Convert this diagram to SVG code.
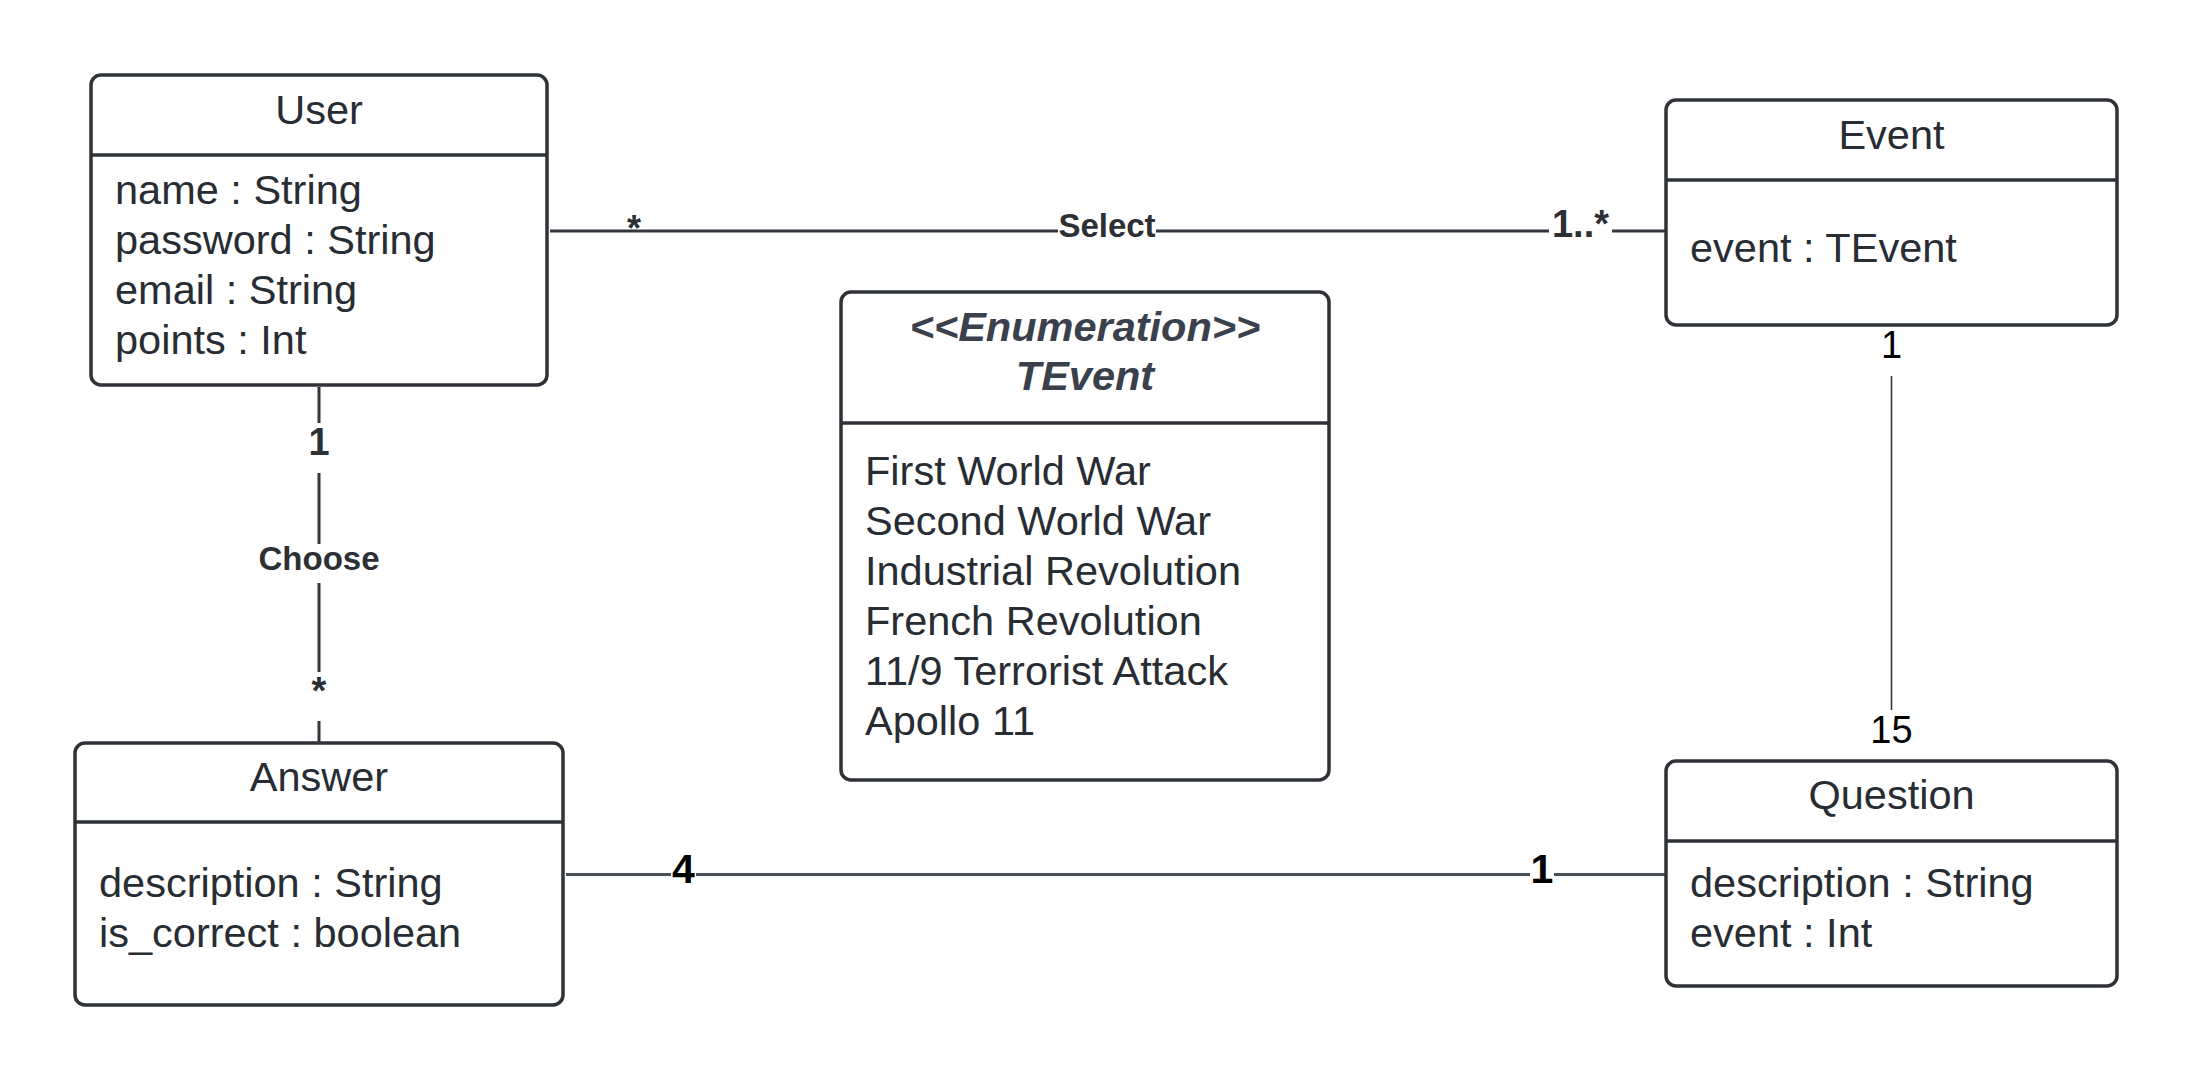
<svg xmlns="http://www.w3.org/2000/svg" width="2192" height="1080" viewBox="0 0 2192 1080">
<style>
.box{fill:#ffffff;stroke:#2f3338;stroke-width:3.5}
.div{stroke:#2f3338;stroke-width:3.5}
.t{font-family:"Liberation Sans",Arial,sans-serif;font-size:41.5px;fill:#282c33}
.c{text-anchor:middle}
.ei{font-weight:bold;font-style:italic;fill:#3a414c}
.ln{stroke:#33373d;stroke-width:3;fill:none}
.lb{font-family:"Liberation Sans",Arial,sans-serif;font-weight:bold;fill:#2c3035;text-anchor:middle}
.bg{fill:#ffffff}
</style>
<rect width="2192" height="1080" fill="#ffffff"/>
<g id="connectors">
  <line class="ln" x1="550" y1="231" x2="1665" y2="231"/>
  <line class="ln" x1="319" y1="387" x2="319" y2="743"/>
  <line class="ln" x1="1891.5" y1="376" x2="1891.5" y2="710" style="stroke-width:1.6"/>
  <line class="ln" x1="566" y1="874.5" x2="1665" y2="874.5" style="stroke:#4a4f56;stroke-width:3"/>
  <rect class="bg" x="627.5" y="212" width="13" height="16"/>
  <text class="lb" x="634" y="241" font-size="36">*</text>
  <rect class="bg" x="1058" y="210" width="98" height="30"/>
  <text class="lb" x="1107" y="237" font-size="33">Select</text>
  <rect class="bg" x="1549" y="208" width="63" height="32"/>
  <text class="lb" x="1580.5" y="237" font-size="38">1..*</text>
  <rect class="bg" x="305" y="423" width="28" height="50"/>
  <text class="lb" x="319" y="455" font-size="38">1</text>
  <rect class="bg" x="253" y="544" width="132" height="39"/>
  <text class="lb" x="319" y="570" font-size="33">Choose</text>
  <rect class="bg" x="305" y="672" width="28" height="49"/>
  <text class="lb" x="319" y="704" font-size="38">*</text>
  <text x="1891.5" y="358" font-family="Liberation Sans, Arial, sans-serif" font-size="38" fill="#000" text-anchor="middle">1</text>
  <text x="1891.5" y="743" font-family="Liberation Sans, Arial, sans-serif" font-size="38" fill="#000" text-anchor="middle">15</text>
  <rect class="bg" x="671" y="852" width="25" height="32"/>
  <text class="lb" x="683.5" y="883" font-size="41" style="fill:#000">4</text>
  <rect class="bg" x="1530" y="852" width="24" height="32"/>
  <text class="lb" x="1542" y="883" font-size="41" style="fill:#000">1</text>
</g>
<g id="user">
  <rect class="box" x="91" y="75" width="456" height="310" rx="10"/>
  <line class="div" x1="91" y1="155" x2="547" y2="155"/>
  <text class="t c" x="319" y="124">User</text>
  <text class="t" x="115" y="204">name : String</text>
  <text class="t" x="115" y="254">password : String</text>
  <text class="t" x="115" y="304">email : String</text>
  <text class="t" x="115" y="354">points : Int</text>
</g>
<g id="event">
  <rect class="box" x="1666" y="100" width="451" height="225" rx="10"/>
  <line class="div" x1="1666" y1="180" x2="2117" y2="180"/>
  <text class="t c" x="1891.5" y="149">Event</text>
  <text class="t" x="1690" y="262">event : TEvent</text>
</g>
<g id="tevent">
  <rect class="box" x="841" y="292" width="488" height="488" rx="10"/>
  <line class="div" x1="841" y1="423" x2="1329" y2="423"/>
  <text class="t c ei" x="1085" y="341">&lt;&lt;Enumeration&gt;&gt;</text>
  <text class="t c ei" x="1085" y="390">TEvent</text>
  <text class="t" x="865" y="485">First World War</text>
  <text class="t" x="865" y="535">Second World War</text>
  <text class="t" x="865" y="585">Industrial Revolution</text>
  <text class="t" x="865" y="635">French Revolution</text>
  <text class="t" x="865" y="685">11/9 Terrorist Attack</text>
  <text class="t" x="865" y="735">Apollo 11</text>
</g>
<g id="answer">
  <rect class="box" x="75" y="743" width="488" height="262" rx="10"/>
  <line class="div" x1="75" y1="822" x2="563" y2="822"/>
  <text class="t c" x="319" y="791">Answer</text>
  <text class="t" x="99" y="897">description : String</text>
  <text class="t" x="99" y="947">is_correct : boolean</text>
</g>
<g id="question">
  <rect class="box" x="1666" y="761" width="451" height="225" rx="10"/>
  <line class="div" x1="1666" y1="841" x2="2117" y2="841"/>
  <text class="t c" x="1891.5" y="809">Question</text>
  <text class="t" x="1690" y="897">description : String</text>
  <text class="t" x="1690" y="947">event : Int</text>
</g>
</svg>
